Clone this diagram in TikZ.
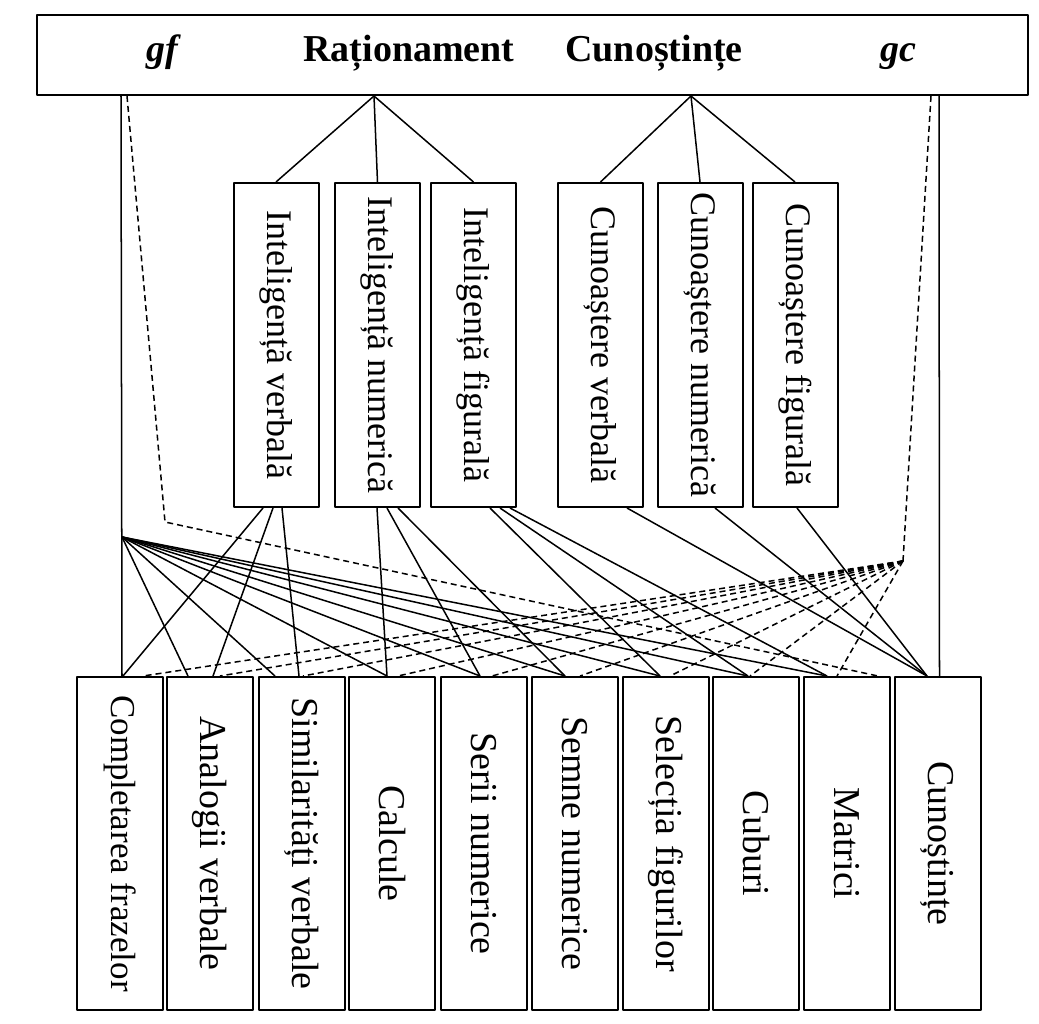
\documentclass[tikz,border=0pt]{standalone}
\usepackage{fontspec}
\setmainfont{Liberation Serif}
\usepackage{graphicx}
\usetikzlibrary{arrows}

\begin{document}
\begin{tikzpicture}[>=latex,line join=bevel,x=0.5pt,y=-0.5pt,
  head/.style={inner sep=0pt,anchor=base,font=\fontsize{19}{22}\selectfont\bfseries},
  factor/.style={draw,line width=1pt,inner sep=0pt,minimum width=42.5pt,minimum height=162pt,font=\fontsize{18}{21}\selectfont},
  test/.style={draw,line width=1pt,inner sep=0pt,minimum width=43pt,minimum height=166.5pt,font=\fontsize{19}{22}\selectfont},
  weak/.style={dash pattern=on 3pt off 2pt}]
  \pgfsetlinewidth{0.75bp}
  \useasboundingbox (0,0) rectangle (1039,1023);
%%
  % Node: top
  \node[draw,line width=1pt,minimum width=495.5pt,minimum height=40pt] (top) at (532.5,55) {};
  \node[head] (gf) at (162,61) {\itshape gf};
  \node[head] (rat) at (409,61) {Raționament};
  \node[head] (cun) at (654,61) {Cunoștințe};
  \node[head] (gc) at (898,61) {\itshape gc};
  \coordinate (rathub) at ([xshift=169pt]top.south west);
  \coordinate (cunhub) at ([xshift=327.5pt]top.south west);
  % Node: group factors
  \node[factor] (intverb) at (276,345) {\rotatebox{-90}{Inteligență verbală}};
  \node[factor] (intnum) at (377.5,345) {\rotatebox{-90}{Inteligență numerică}};
  \node[factor] (intfig) at (473.5,345) {\rotatebox{-90}{Inteligență figurală}};
  \node[factor] (cunverb) at (600.5,345) {\rotatebox{-90}{Cunoaștere verbală}};
  \node[factor] (cunnum) at (700,345) {\rotatebox{-90}{Cunoaștere numerică}};
  \node[factor] (cunfig) at (795,345) {\rotatebox{-90}{Cunoaștere figurală}};
  % Node: tests
  \node[test,font=\fontsize{17.5}{21}\selectfont] (complet) at (120,843.5) {\rotatebox{-90}{Completarea frazelor}};
  \node[test] (analog) at (210,843.5) {\rotatebox{-90}{Analogii verbale}};
  \node[test] (simil) at (301.5,843.5) {\rotatebox{-90}{Similarități verbale}};
  \node[test] (calcule) at (392,843.5) {\rotatebox{-90}{Calcule}};
  \node[test] (serii) at (483.5,843.5) {\rotatebox{-90}{Serii numerice}};
  \node[test] (semne) at (575,843.5) {\rotatebox{-90}{Semne numerice}};
  \node[test] (selectie) at (665.5,843.5) {\rotatebox{-90}{Selecția figurilor}};
  \node[test] (cuburi) at (756,843.5) {\rotatebox{-90}{Cuburi}};
  \node[test] (matrici) at (847,843.5) {\rotatebox{-90}{Matrici}};
  \node[test] (cunost) at (937.5,843.5) {\rotatebox{-90}{Cunoștințe}};
  % hubs of gf and gc
  \coordinate (gfhub) at (122,537);
  \coordinate (gfbend) at (165,522);
  \coordinate (gchub) at (903,561);
%%
  % Edge: rat -> intverb, intnum, intfig
  \draw (rathub) -- (intverb.north);
  \draw (rathub) -- (intnum.north);
  \draw (rathub) -- (intfig.north);
  % Edge: cun -> cunverb, cunnum, cunfig
  \draw (cunhub) -- (cunverb.north);
  \draw (cunhub) -- (cunnum.north);
  \draw (cunhub) -- (cunfig.north);
  % Edge: intverb -> complet, analog, simil
  \draw ([xshift=-6.5pt]intverb.south) -- ([xshift=1.5pt]complet.north);
  \draw ([xshift=-1.5pt]intverb.south) -- ([xshift=1.5pt]analog.north);
  \draw ([xshift=3pt]intverb.south) -- ([xshift=-1.25pt]simil.north);
  % Edge: intnum -> calcule, serii, semne
  \draw ([xshift=-0.25pt]intnum.south) -- ([xshift=-2.5pt]calcule.north);
  \draw ([xshift=4.75pt]intnum.south) -- ([xshift=-1.75pt]serii.north);
  \draw ([xshift=10.25pt]intnum.south) -- ([xshift=-5pt]semne.north);
  % Edge: intfig -> selectie, cuburi, matrici
  \draw ([xshift=8.25pt]intfig.south) -- ([xshift=-2.75pt]selectie.north);
  \draw ([xshift=13.25pt]intfig.south) -- ([xshift=-4pt]cuburi.north);
  \draw ([xshift=18.25pt]intfig.south) -- ([xshift=-10pt]matrici.north);
  % Edge: cunverb, cunnum, cunfig -> cunost
  \draw ([xshift=13.25pt]cunverb.south) -- ([xshift=-5.25pt]cunost.north);
  \draw ([xshift=7.5pt]cunnum.south) -- ([xshift=-5.25pt]cunost.north);
  \draw ([xshift=1pt]cunfig.south) -- ([xshift=-5.25pt]cunost.north);
  % Edge: gf -> complet (solid), gf -> matrici (dashed)
  \draw ([xshift=42.5pt]top.south west) -- ([xshift=1pt]complet.north);
  \draw[weak] ([xshift=45.5pt]top.south west) -- (gfbend) -- ([xshift=15.5pt]matrici.north);
  % Edge: gf -> reasoning tests
  \draw (gfhub) -- ([xshift=-11pt]analog.north);
  \draw (gfhub) -- ([xshift=-13.25pt]simil.north);
  \draw (gfhub) -- ([xshift=-2.5pt]calcule.north);
  \draw (gfhub) -- ([xshift=-1.75pt]serii.north);
  \draw (gfhub) -- ([xshift=-5pt]semne.north);
  \draw (gfhub) -- ([xshift=-2.75pt]selectie.north);
  \draw (gfhub) -- ([xshift=-4pt]cuburi.north);
  \draw (gfhub) -- ([xshift=-10pt]matrici.north);
  % Edge: gc -> cunost (solid)
  \draw ([xshift=451.5pt]top.south west) -- ([xshift=1pt]cunost.north);
  % Edge: gc -> reasoning tests (dashed)
  \draw[weak] ([xshift=447.5pt]top.south west) -- (gchub);
  \draw[weak] (gchub) -- ([xshift=11.5pt]complet.north);
  \draw[weak] (gchub) -- ([xshift=5pt]analog.north);
  \draw[weak] (gchub) -- ([xshift=0.75pt]simil.north);
  \draw[weak] (gchub) -- ([xshift=3pt]calcule.north);
  \draw[weak] (gchub) -- ([xshift=4.25pt]serii.north);
  \draw[weak] (gchub) -- ([xshift=2.5pt]semne.north);
  \draw[weak] (gchub) -- ([xshift=2.25pt]selectie.north);
  \draw[weak] (gchub) -- ([xshift=-3pt]cuburi.north);
  \draw[weak] (gchub) -- ([xshift=-5pt]matrici.north);
%
\end{tikzpicture}
\end{document}
